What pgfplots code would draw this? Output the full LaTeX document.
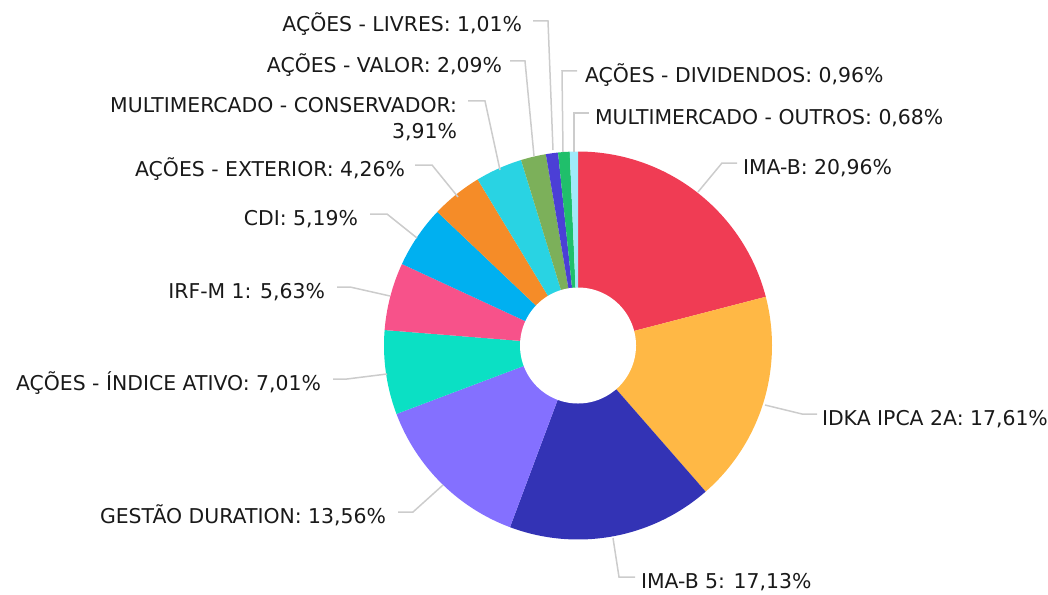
\documentclass[border=0pt]{standalone}
\usepackage{pgfplots}
\pgfplotsset{compat=1.18}
\usepackage{fontspec}
\setmainfont{DejaVu Sans}
\definecolor{c1}{HTML}{F03C54}
\definecolor{c2}{HTML}{FFB845}
\definecolor{c3}{HTML}{3333B5}
\definecolor{c4}{HTML}{8470FF}
\definecolor{c5}{HTML}{0BE0C4}
\definecolor{c6}{HTML}{F7528A}
\definecolor{c7}{HTML}{00B0F0}
\definecolor{c8}{HTML}{F58C28}
\definecolor{c9}{HTML}{29D3E3}
\definecolor{c10}{HTML}{7CB05A}
\definecolor{c11}{HTML}{4B3FD6}
\definecolor{c12}{HTML}{20BF6B}
\definecolor{c13}{HTML}{9FEAFA}
\definecolor{leader}{HTML}{CCCCCC}
\tikzset{lbl/.style={inner sep=0pt, outer sep=0pt, font=\fontsize{10.2bp}{12bp}\selectfont, text=black!90}}
% slice: #1 cumulative percent before, #2 percent, #3 colour
\newcommand\slice[3]{%
  \addplot[fill=#3, draw=none, domain={-90+3.6*#1}:{-90+3.6*(#1+#2)}, samples=80, variable=\t]
    ({578+194*cos(t)},{345.5+194*sin(t)}) -- (axis cs:578,345.5) -- cycle;}
\begin{document}
\begin{tikzpicture}
\begin{axis}[hide axis, scale only axis, width=524bp, height=297.5bp,
  xmin=0, xmax=1048, ymin=0, ymax=595, y dir=reverse, clip=false]
\slice{0}{20.96}{c1}
\slice{20.96}{17.61}{c2}
\slice{38.57}{17.13}{c3}
\slice{55.70}{13.56}{c4}
\slice{69.26}{7.01}{c5}
\slice{76.27}{5.63}{c6}
\slice{81.90}{5.19}{c7}
\slice{87.09}{4.26}{c8}
\slice{91.35}{3.91}{c9}
\slice{95.26}{2.09}{c10}
\slice{97.35}{1.01}{c11}
\slice{98.36}{0.96}{c12}
\slice{99.32}{0.68}{c13}
\addplot[fill=white, draw=none, domain=0:360, samples=181, variable=\t]
  ({578+58*cos(t)},{345.5+58*sin(t)}) -- cycle;
% leader lines
\addplot[leader, line width=0.75bp] coordinates {(698,192) (722,163) (737,163)};
\addplot[leader, line width=0.75bp] coordinates {(765,405) (802,414) (817,414)};
\addplot[leader, line width=0.75bp] coordinates {(613,538) (619,577) (635,577)};
\addplot[leader, line width=0.75bp] coordinates {(443,485) (413,512) (398,512)};
\addplot[leader, line width=0.75bp] coordinates {(387,374) (347,379) (333,379)};
\addplot[leader, line width=0.75bp] coordinates {(390,296) (350,287) (337,287)};
\addplot[leader, line width=0.75bp] coordinates {(417,238) (387,214) (370,214)};
\addplot[leader, line width=0.75bp] coordinates {(458,197) (432,165) (415,165)};
\addplot[leader, line width=0.75bp] coordinates {(500,170) (485,101) (468,101)};
\addplot[leader, line width=0.75bp] coordinates {(534,156) (525,61) (510,61)};
\addplot[leader, line width=0.75bp] coordinates {(553,150) (548,21) (533,21)};
\addplot[leader, line width=0.75bp] coordinates {(563,152) (562,71) (577,71)};
\addplot[leader, line width=0.75bp] coordinates {(574,152) (574,113) (589,113)};
% labels
\node[lbl, anchor=base west] at (axis cs:743,174) {IMA-B: 20,96\%};
\node[lbl, anchor=base west] at (axis cs:822,425) {IDKA IPCA 2A: 17,61\%};
\node[lbl, anchor=base west] at (axis cs:641,588) {IMA-B 5: 17,13\%};
\node[lbl, anchor=base east] at (axis cs:386,523) {GESTÃO DURATION: 13,56\%};
\node[lbl, anchor=base east] at (axis cs:321,390) {AÇÕES - ÍNDICE ATIVO: 7,01\%};
\node[lbl, anchor=base east] at (axis cs:325,298) {IRF-M 1: 5,63\%};
\node[lbl, anchor=base east] at (axis cs:358,225) {CDI: 5,19\%};
\node[lbl, anchor=base east] at (axis cs:405,176) {AÇÕES - EXTERIOR: 4,26\%};
\node[lbl, anchor=base east] at (axis cs:457,112) {MULTIMERCADO - CONSERVADOR:};
\node[lbl, anchor=base east] at (axis cs:457,138) {3,91\%};
\node[lbl, anchor=base east] at (axis cs:502,72) {AÇÕES - VALOR: 2,09\%};
\node[lbl, anchor=base east] at (axis cs:522,32) {AÇÕES - LIVRES: 1,01\%};
\node[lbl, anchor=base west] at (axis cs:585,82) {AÇÕES - DIVIDENDOS: 0,96\%};
\node[lbl, anchor=base west] at (axis cs:595,124) {MULTIMERCADO - OUTROS: 0,68\%};
\end{axis}
\pgfresetboundingbox
\path (current axis.south west) rectangle (current axis.north east);
\end{tikzpicture}
\end{document}
